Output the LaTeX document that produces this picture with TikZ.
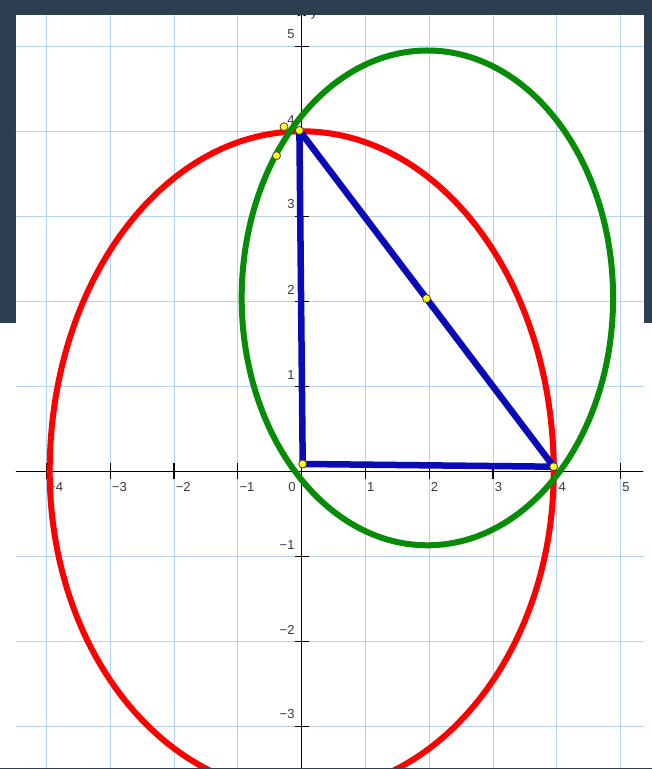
\documentclass[tikz,border=0pt]{standalone}
\usepackage{fontspec}
\setmainfont{Liberation Sans}
\usetikzlibrary{arrows.meta,calc}
\definecolor{cSlide}{HTML}{2C3E50}
\definecolor{cGrid}{HTML}{B4D2F0}
\definecolor{cRed}{HTML}{FF0000}
\definecolor{cGreen}{HTML}{078C07}
\definecolor{cBlue}{HTML}{0A0AB8}
\definecolor{cDot}{HTML}{FFFF1A}
\definecolor{cLabel}{HTML}{3A3A3A}

\begin{document}
\begin{tikzpicture}[
  x=63.8pt, y=85pt,
  gridline/.style={draw=cGrid, line width=1.1pt},
  axisline/.style={draw=black, line width=1.2pt},
  tickmark/.style={draw=black, line width=1.2pt},
  curve/.style={line width=6pt},
  side/.style={draw=cBlue, line width=6.5pt, line cap=round, line join=round},
  ptdot/.style={circle, draw=black!75, line width=0.8pt, fill=cDot,
                inner sep=0pt, minimum size=8pt},
  lbl/.style={font=\fontsize{13}{13}\selectfont, text=cLabel, inner sep=0pt},
]

% ---------------- frame ----------------
\useasboundingbox (-4.7288,-3.5024) rectangle (5.4906,5.5447);
\fill[white] (-4.7288,-3.5024) rectangle (5.4906,5.5447);
\fill[cSlide] (-4.7288,5.368) rectangle (5.4906,5.5447);
\fill[cSlide] (-4.7288,1.745) rectangle (-4.478,5.368);
\fill[cSlide] (5.365,1.745) rectangle (5.4906,5.368);
\fill[cSlide] (-4.7288,-3.5024) rectangle (5.4906,-3.487);

\begin{scope}
  \clip (-4.478,-3.487) rectangle (5.365,5.368);

  % ---------------- grid and axes ----------------
  \foreach \i in {-4,...,5}
    \draw[gridline] (\i,-3.6) -- (\i,5.5);
  \foreach \j in {-3,...,5}
    \draw[gridline] (-4.6,\j) -- (5.5,\j);

  \draw[axisline] (-4.6,0) -- (5.35,0);
  \draw[axisline, -{To[length=4pt]}] (0,-3.6) -- (0,5.40);
  \node[lbl, anchor=base west] (ylab) at ([xshift=9pt]0,5.35) {y};

  \foreach \i/\t in {-4/−4,-3/−3,-2/−2,-1/−1,1/1,2/2,3/3,4/4,5/5} {
    \draw[tickmark] ([yshift=8pt]\i,0) -- ([yshift=-8pt]\i,0);
    \node[lbl, anchor=north west] (xl\i) at ([xshift=1.5pt,yshift=-11pt]\i,0) {\t};
  }
  \node[lbl, anchor=north east] (xl0) at ([xshift=-6pt,yshift=-11pt]0,0) {0};

  \foreach \j/\t in {-3/−3,-2/−2,-1/−1,1/1,2/2,3/3,4/4,5/5} {
    \draw[tickmark] ([xshift=-7pt]0,\j) -- ([xshift=7pt]0,\j);
    \node[lbl, anchor=south east] (yl\j) at ([xshift=-7pt,yshift=7pt]0,\j) {\t};
  }

  % ---------------- curves ----------------
  \draw[cRed, curve] (3.95,0)
    arc[start angle=0, end angle=180, x radius=252pt, y radius=340pt]
    arc[start angle=180, end angle=360, x radius=252pt, y radius=321.3pt] -- cycle;
  \draw[cGreen, curve] (1.97,2.04) ellipse[x radius=185.7pt, y radius=247.4pt];

  % ---------------- triangle ----------------
  \coordinate (A) at (-0.036,4.01);
  \coordinate (B) at (0.016,0.086);
  \coordinate (C) at (3.95,0.054);
  \coordinate (M) at ($(A)!0.5!(C)$);
  \draw[side] (A) -- (B) -- (C) -- cycle;

  % ---------------- points ----------------
  \node[ptdot] (pA) at (A) {};
  \node[ptdot] (pB) at (B) {};
  \node[ptdot] (pC) at (C) {};
  \node[ptdot] (pM) at (M) {};
  \node[ptdot] (pP) at (-0.277,4.054) {};
  \node[ptdot] (pQ) at (-0.395,3.713) {};
\end{scope}

\end{tikzpicture}
\end{document}
